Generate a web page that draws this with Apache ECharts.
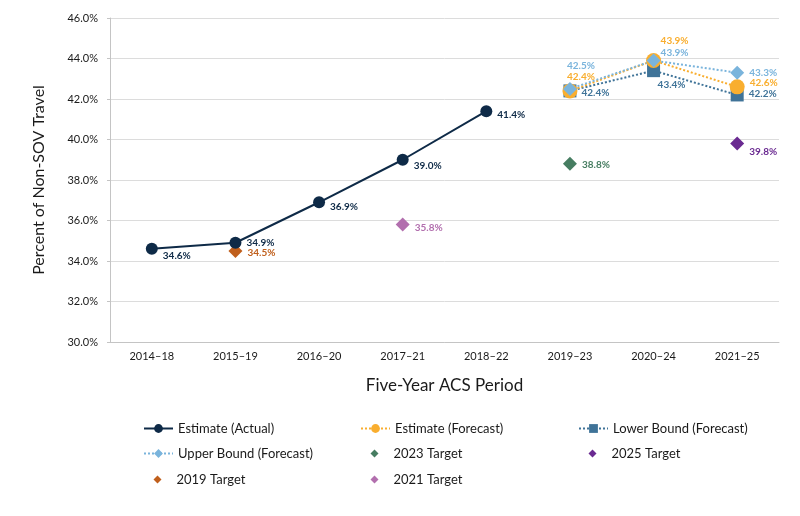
<!DOCTYPE html>
<html>
<head>
<meta charset="utf-8">
<script src="https://cdn.jsdelivr.net/npm/echarts@6/dist/echarts.min.js"></script>
<style>
	html, body { margin: 0; background: #fff; }
	#chart { width: 800px; height: 516px; }
</style>
</head>
<body>
<div id="chart"></div>
<script>
// data
const periods = ['2014–18', '2015–19', '2016–20', '2017–21', '2018–22', '2019–23', '2020–24', '2021–25'];
const actual = [34.6, 34.9, 36.9, 39.0, 41.4, null, null, null];
const forecast = [null, null, null, null, null, 42.4, 43.9, 42.6];
const lowerBound = [null, null, null, null, null, 42.4, 43.4, 42.2];
const upperBound = [null, null, null, null, null, 42.5, 43.9, 43.3];
const target2019 = [null, 34.5, null, null, null, null, null, null];
const target2021 = [null, null, null, 35.8, null, null, null, null];
const target2023 = [null, null, null, null, null, 38.8, null, null];
const target2025 = [null, null, null, null, null, null, null, 39.8];
const yTicks = { min: 30, max: 46, step: 2 };

// label placement, one entry per category (null = no point)
const actualLabel = [['right', 0, 7], ['right', 0, 0], ['right', 0, 5], ['right', 0, 6], ['right', 0, 4]];
const forecastLabel = [null, null, null, null, null, ['top', 11, 3], ['top', 21, -2], ['right', 0, -4]];
const lowerLabel = [null, null, null, null, null, ['right', 0, 2], ['bottom', 18, -2], ['right', 0, -1]];
const upperLabel = [null, null, null, null, null, ['top', 11, -6], ['top', 21, 9], ['right', 0, 0]];
const targetLabel = { t2019: [0, 2], t2021: [0, 3], t2023: [0, 1], t2025: [0, 8] };

const colors = {
	actual: '#0e2a47',
	forecast: '#f9ae2f',
	lower: '#3f7398',
	upper: '#7ab4dc',
	t2019: '#c05f1c',
	t2021: '#b26fae',
	t2023: '#467d61',
	t2025: '#6a2a91'
};

const fontFamily = 'Lato, "Noto Sans", sans-serif';
const pct = (p) => `${Number(p.value).toFixed(1)}%`;

const withLabels = (values, placement, color) => values.map((v, i) => {
	if (v === null) return null;
	const pl = placement[i];
	return {
		value: v,
		label: {
			show: true,
			position: pl[0],
			offset: [pl[1], pl[2]],
			formatter: pct,
			color,
			fontFamily,
			fontSize: 10,
			fontWeight: 'bold'
		}
	};
});

const lineSeries = (name, values, placement, color, symbol, size, dotted) => ({
	name,
	type: 'line',
	data: withLabels(values, placement, color),
	symbol,
	symbolSize: size,
	showAllSymbol: true,
	connectNulls: false,
	lineStyle: { color, width: 2, type: dotted ? [2, 2] : 'solid' },
	itemStyle: { color, opacity: 1 },
	emphasis: { disabled: true },
	animation: false
});

const targetSeries = (name, values, key) => ({
	name,
	type: 'scatter',
	symbol: 'diamond',
	symbolSize: 14,
	itemStyle: { color: colors[key], opacity: 1 },
	data: values,
	label: {
		show: true,
		position: 'right',
		offset: targetLabel[key],
		formatter: pct,
		color: colors[key],
		fontFamily,
		fontSize: 10,
		fontWeight: 'bold'
	},
	emphasis: { disabled: true },
	animation: false
});

// legend: three columns, three rows
const legendCols = [143, 360, 578];
const legendRows = [430, 455, 481];
const legendItems = [
	{ name: 'Estimate (Actual)', col: 0, row: 0, small: false },
	{ name: 'Estimate (Forecast)', col: 1, row: 0, small: false },
	{ name: 'Lower Bound (Forecast)', col: 2, row: 0, small: false },
	{ name: 'Upper Bound (Forecast)', col: 0, row: 1, small: false },
	{ name: '2023 Target', col: 1, row: 1, small: true },
	{ name: '2025 Target', col: 2, row: 1, small: true },
	{ name: '2019 Target', col: 0, row: 2, small: true },
	{ name: '2021 Target', col: 1, row: 2, small: true }
];

const legendFor = (item) => {
	const text = { fontFamily, fontSize: 13, color: '#1a1a1a' };
	if (!item.small) {
		return {
			data: [item.name],
			left: legendCols[item.col],
			top: legendRows[item.row] - 8,
			itemWidth: 29,
			itemHeight: 11,
			selectedMode: false,
			padding: 0,
			textStyle: text
		};
	}
	// small diamond centred where the line icon would sit
	return {
		data: [{ name: item.name, icon: 'diamond' }],
		left: legendCols[item.col] + 10.5,
		top: legendRows[item.row] - 8,
		itemWidth: 8,
		itemHeight: 8,
		selectedMode: false,
		padding: 0,
		textStyle: { ...text, padding: [0, 0, 0, 10] }
	};
};

const chart = echarts.init(document.getElementById('chart'));
chart.setOption({
	backgroundColor: '#fff',
	animation: false,
	grid: { left: 110, right: 21, top: 18, bottom: 174, containLabel: false },
	legend: legendItems.map(legendFor),
	xAxis: {
		type: 'category',
		data: periods,
		boundaryGap: true,
		name: 'Five-Year ACS Period',
		nameLocation: 'middle',
		nameGap: 35,
		nameTextStyle: { fontFamily, fontSize: 17, color: '#1a1a1a' },
		axisLine: { lineStyle: { color: '#c4c4c4', width: 1 } },
		axisTick: { show: false },
		axisLabel: { fontFamily, fontSize: 11, color: '#1a1a1a', margin: 9 }
	},
	yAxis: {
		type: 'value',
		min: yTicks.min,
		max: yTicks.max,
		interval: yTicks.step,
		name: 'Percent of Non-SOV Travel',
		nameLocation: 'middle',
		nameGap: 63,
		nameTextStyle: { fontFamily, fontSize: 16, color: '#1a1a1a' },
		axisLine: { show: true, lineStyle: { color: '#c4c4c4', width: 1 } },
		axisTick: { show: true, length: 3, lineStyle: { color: '#c4c4c4' } },
		axisLabel: {
			fontFamily,
			fontSize: 11,
			color: '#1a1a1a',
			margin: 12,
			formatter: (v) => `${v.toFixed(1)}%`
		},
		splitLine: { lineStyle: { color: '#dcdcdc', width: 1 } }
	},
	series: [
		lineSeries('Estimate (Actual)', actual, actualLabel, colors.actual, 'circle', 12, false),
		lineSeries('Lower Bound (Forecast)', lowerBound, lowerLabel, colors.lower, 'rect', 13, true),
		lineSeries('Estimate (Forecast)', forecast, forecastLabel, colors.forecast, 'circle', 15, true),
		lineSeries('Upper Bound (Forecast)', upperBound, upperLabel, colors.upper, 'diamond', 14, true),
		targetSeries('2019 Target', target2019, 't2019'),
		targetSeries('2021 Target', target2021, 't2021'),
		targetSeries('2023 Target', target2023, 't2023'),
		targetSeries('2025 Target', target2025, 't2025')
	]
});
</script>
</body>
</html>
